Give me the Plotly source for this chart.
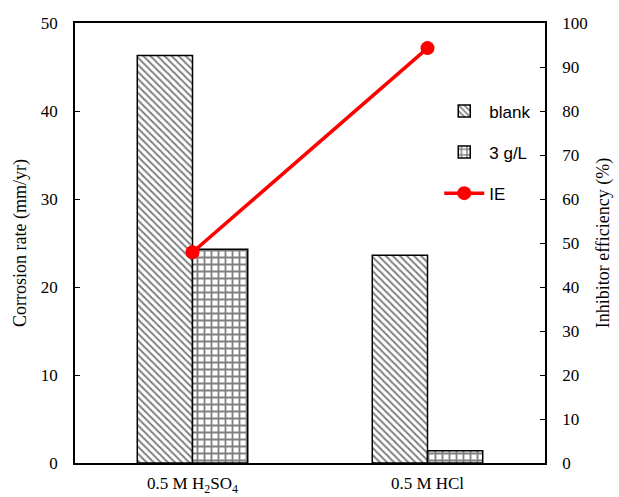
import plotly.graph_objects as go

categories = ["0.5 M H<sub>2</sub>SO<sub>4</sub>", "0.5 M HCl"]
blank = [46.3, 23.6]
inhib_3gL = [24.3, 1.4]
ie = [47.9, 94.3]

serif = "Liberation Serif, Times New Roman, serif"
sans = "Liberation Sans, Arial, sans-serif"

fig = go.Figure()
fig.add_trace(go.Bar(
    x=categories, y=blank, name="blank", legendgroup="a",
    marker=dict(color="white", line=dict(color="black", width=1.5),
                pattern=dict(shape="\\", fgcolor="black", bgcolor="white",
                             size=5, solidity=0.4, fillmode="overlay")),
))
fig.add_trace(go.Bar(
    x=categories, y=inhib_3gL, name="3 g/L", legendgroup="b",
    marker=dict(color="white", line=dict(color="black", width=1.5),
                pattern=dict(shape="+", fgcolor="black", bgcolor="white",
                             size=7, solidity=0.45, fillmode="overlay")),
))
fig.add_trace(go.Scatter(
    x=categories, y=ie, name="IE", legendgroup="c", yaxis="y2",
    mode="lines+markers",
    line=dict(color="#ff0000", width=3.5),
    marker=dict(color="#ff0000", size=14),
))

fig.update_layout(
    width=619, height=497,
    margin=dict(l=75, r=74, t=23, b=34),
    paper_bgcolor="white", plot_bgcolor="white",
    barmode="group", bargap=0.53, bargroupgap=0,
    showlegend=True,
    legend=dict(x=0.775, y=0.84, xanchor="left", yanchor="top",
                font=dict(family=sans, size=17, color="black"),
                tracegroupgap=16, traceorder="grouped",
                bgcolor="rgba(0,0,0,0)", itemwidth=40),
    xaxis=dict(showline=True, linecolor="black", linewidth=1.5, mirror=True,
               ticks="", showgrid=False, ticklabelstandoff=4, automargin=False,
               tickfont=dict(family=serif, size=17, color="black")),
    yaxis=dict(range=[0, 50], dtick=10, showline=True, linecolor="black",
               linewidth=1.5, ticks="inside", ticklen=5, tickcolor="black",
               showgrid=False, zeroline=False, automargin=False,
               ticklabelstandoff=12,
               tickfont=dict(family=serif, size=17, color="black"),
               title=dict(text="Corrosion rate (mm/yr)", standoff=10,
                          font=dict(family=serif, size=18, color="black"))),
    yaxis2=dict(range=[0, 100], dtick=10, overlaying="y", side="right",
                showline=True, linecolor="black", linewidth=1.5,
                ticks="inside", ticklen=5, tickcolor="black",
                showgrid=False, zeroline=False, automargin=False,
                ticklabelstandoff=12,
                tickfont=dict(family=serif, size=17, color="black"),
                title=dict(text="Inhibitor efficiency (%)", standoff=10,
                           font=dict(family=serif, size=18, color="black"))),
)

fig.write_html("out.html")
